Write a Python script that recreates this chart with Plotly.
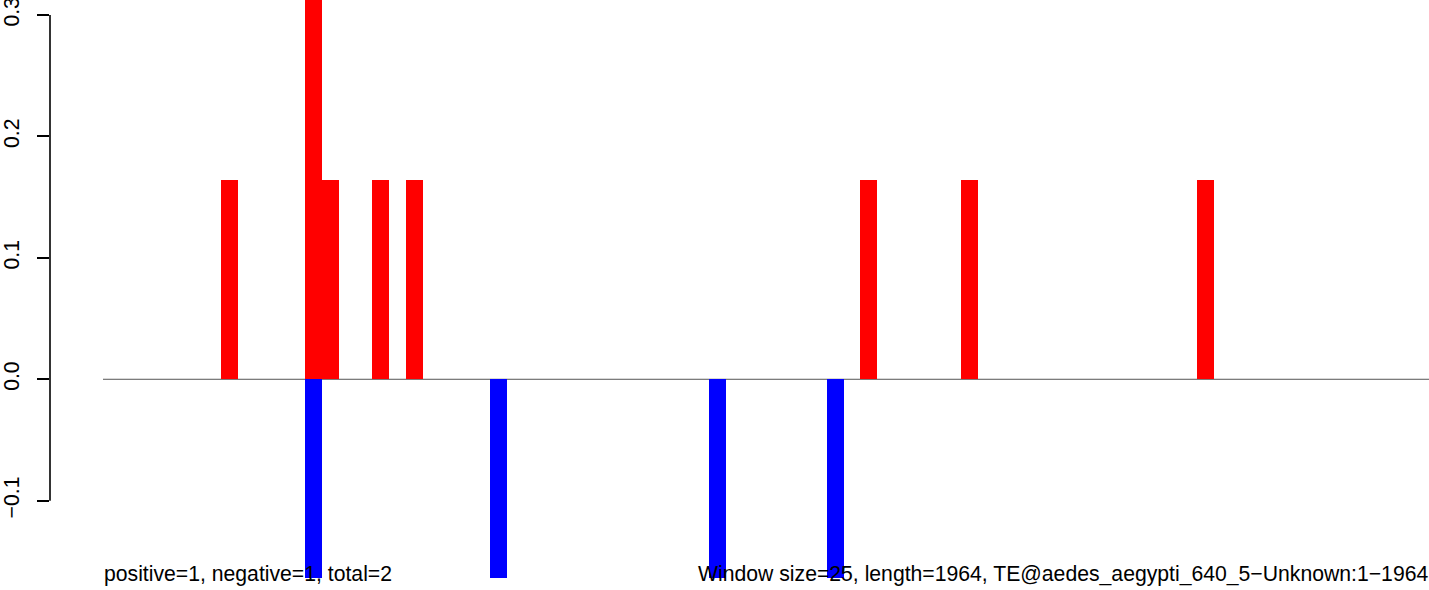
import plotly.graph_objects as go

# Window indices (window size 25 over length 1964) and their values
n_windows = 79
pos_windows = [7, 12, 13, 16, 18, 45, 51, 65]
pos_values = [0.164, 0.328, 0.164, 0.164, 0.164, 0.164, 0.164, 0.164]
neg_windows = [12, 23, 36, 43]
neg_values = [-0.164, -0.164, -0.164, -0.164]

y_ticks = [-0.1, 0.0, 0.1, 0.2, 0.3]
y_tick_labels = ["\u22120.1", "0.0", "0.1", "0.2", "0.3"]

left_label = "positive=1, negative=1, total=2"
right_label = "Window size=25, length=1964, TE@aedes_aegypti_640_5\u2212Unknown:1\u22121964"

FONT = "Liberation Sans, Arial, Helvetica, sans-serif"
FS = 21.2

fig = go.Figure()
fig.add_trace(go.Bar(
    x=[w + 0.5 for w in pos_windows], y=pos_values, width=1,
    marker=dict(color="#FF0000", line=dict(width=0)), showlegend=False,
))
fig.add_trace(go.Bar(
    x=[w + 0.5 for w in neg_windows], y=neg_values, width=1,
    marker=dict(color="#0000FF", line=dict(width=0)), showlegend=False,
))

x_left = -53 / 16.83
x_right = 1326 / 16.83

fig.add_shape(type="line", xref="x", yref="y", x0=0, x1=x_right, y0=0, y1=0,
              line=dict(color="#555555", width=1), layer="below")
# R-style y axis line spanning only the tick range
fig.add_shape(type="line", xref="paper", yref="y", x0=0, x1=0, y0=-0.1, y1=0.3,
              line=dict(color="black", width=1.6))

fig.add_annotation(text=left_label, xref="x", yref="paper", x=0, y=-0.013,
                   xanchor="left", yanchor="bottom", showarrow=False, borderpad=0,
                   font=dict(family=FONT, size=FS, color="black"))
fig.add_annotation(text=right_label, xref="paper", yref="paper", x=1.0, y=-0.013,
                   xanchor="right", yanchor="bottom", showarrow=False, borderpad=0,
                   font=dict(family=FONT, size=FS, color="black"))

fig.update_layout(
    width=1429, height=590,
    margin=dict(l=50, r=0, t=0, b=11, autoexpand=False),
    plot_bgcolor="white", paper_bgcolor="white",
    barmode="overlay", bargap=0,
    xaxis=dict(range=[x_left, x_right], visible=False, showgrid=False, zeroline=False,
               automargin=False),
    yaxis=dict(range=[-0.1645, 0.3124], tickvals=y_ticks, ticktext=y_tick_labels,
               tickangle=-90, ticks="outside", ticklen=12, tickwidth=1.6, tickcolor="black",
               ticklabelstandoff=10, ticklabeloverflow="allow", automargin=False,
               showgrid=False, zeroline=False, showline=False,
               tickfont=dict(family=FONT, size=FS, color="black")),
)

fig.write_html("out.html", config={"displayModeBar": False},
               post_script="document.body.style.margin='0';document.body.style.overflow='hidden';")
